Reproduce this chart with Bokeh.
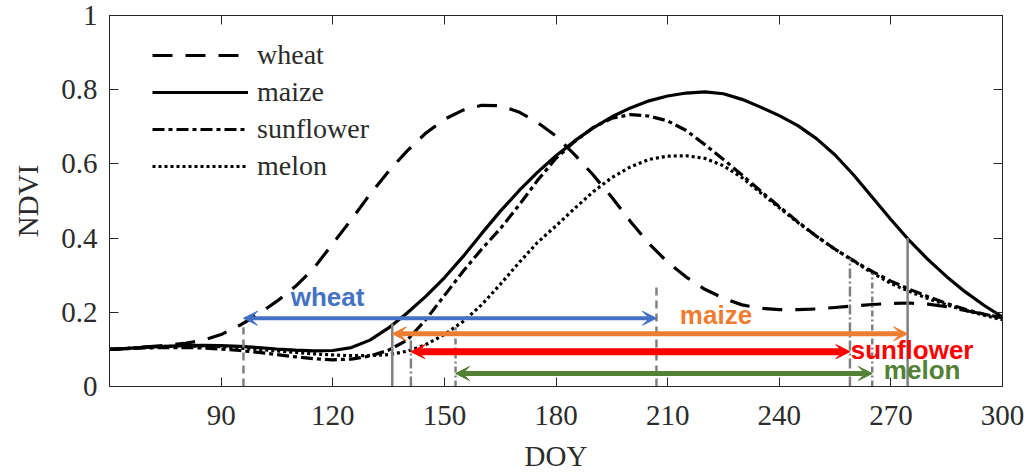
from bokeh.plotting import figure
from bokeh.models import (Arrow, VeeHead, Legend, LegendItem, LinearAxis,
                          FixedTicker, Range1d, ColumnDataSource)
from bokeh.core.properties import value
from bokeh.embed import file_html
from bokeh.resources import INLINE

# Day of year sampled every 5 days
doy = list(range(60, 305, 5))

# NDVI profiles per crop
wheat = [0.100, 0.103, 0.107, 0.111, 0.116, 0.124, 0.140, 0.165, 0.195,
         0.230, 0.270, 0.320, 0.385, 0.450, 0.518, 0.580, 0.635, 0.683, 0.720,
         0.745, 0.758, 0.757, 0.740, 0.712, 0.675, 0.625, 0.570, 0.510, 0.445,
         0.385, 0.335, 0.295, 0.262, 0.238, 0.220, 0.211, 0.207, 0.207, 0.209,
         0.213, 0.217, 0.221, 0.224, 0.225, 0.222, 0.215, 0.205, 0.195, 0.185]
maize = [0.100, 0.103, 0.106, 0.108, 0.110, 0.111, 0.110, 0.108, 0.105,
         0.101, 0.098, 0.096, 0.097, 0.105, 0.125, 0.158, 0.198, 0.243, 0.293,
         0.350, 0.412, 0.472, 0.527, 0.577, 0.622, 0.662, 0.697, 0.727, 0.751,
         0.770, 0.783, 0.791, 0.794, 0.789, 0.774, 0.753, 0.730, 0.703, 0.668,
         0.624, 0.570, 0.510, 0.450, 0.393, 0.342, 0.296, 0.255, 0.219, 0.187]
sunflower = [0.100, 0.102, 0.104, 0.105, 0.105, 0.104, 0.101, 0.097, 0.092,
             0.086, 0.080, 0.075, 0.072, 0.074, 0.082, 0.098, 0.125, 0.180, 0.245,
             0.310, 0.370, 0.425, 0.488, 0.555, 0.615, 0.660, 0.698, 0.723, 0.733,
             0.729, 0.716, 0.690, 0.652, 0.612, 0.570, 0.527, 0.485, 0.444, 0.405,
             0.370, 0.339, 0.310, 0.284, 0.262, 0.242, 0.224, 0.208, 0.195, 0.184]
melon = [0.100, 0.103, 0.106, 0.108, 0.109, 0.109, 0.107, 0.104, 0.100,
         0.096, 0.092, 0.088, 0.085, 0.083, 0.083, 0.086, 0.095, 0.113, 0.140,
         0.175, 0.220, 0.275, 0.333, 0.388, 0.433, 0.480, 0.525, 0.563, 0.592,
         0.612, 0.621, 0.622, 0.615, 0.595, 0.563, 0.522, 0.482, 0.442, 0.405,
         0.370, 0.338, 0.306, 0.278, 0.256, 0.237, 0.220, 0.205, 0.192, 0.180]

# Growing periods (DOY) and the NDVI where each period boundary is marked
crops = ["wheat", "maize", "sunflower", "melon"]
period_start = [96, 136, 141, 153]
period_end = [207, 274.5, 259, 265]
start_ndvi = [0.16, 0.17, 0.13, 0.16]
end_ndvi = [0.28, 0.40, 0.345, 0.305]

# Period arrow placement and label placement
arrow_level = [0.184, 0.142, 0.094, 0.035]
label_x = [118.6, 223.0, 275.7, 278.4]
label_y = [0.241, 0.193, 0.099, 0.045]

x_ticks = [90, 120, 150, 180, 210, 240, 270, 300]
y_ticks = [0, 0.2, 0.4, 0.6, 0.8, 1]
y_tick_labels = ["0", "0.2", "0.4", "0.6", "0.8", "1"]

colors = ["#4472C4", "#ED7D31", "#FF0000", "#548235"]
arrow_widths = [4, 5, 7, 5]
curve_dash = ["20 13", "solid", "12 4 4 4", "3 3"]
mark_dash = ["8 5", "solid", "10 3 2 3", "6 3 2 3"]

INK = "#262626"
TEXT = "#2b2b2b"
SERIF = "Liberation Serif"

p = figure(width=1028, height=474, output_backend="svg", toolbar_location=None,
           x_range=Range1d(60, 300), y_range=Range1d(0, 1),
           min_border_left=109, min_border_right=26,
           min_border_top=15, min_border_bottom=88,
           x_axis_label="DOY", y_axis_label="NDVI")
p.xgrid.visible = False
p.ygrid.visible = False
p.outline_line_color = INK
p.outline_line_width = 1

p.xaxis.ticker = FixedTicker(ticks=x_ticks)
p.yaxis.ticker = FixedTicker(ticks=y_ticks)
p.yaxis.major_label_overrides = {t: s for t, s in zip(y_ticks, y_tick_labels)}

for ax in (p.xaxis[0], p.yaxis[0]):
    ax.major_tick_in = 9
    ax.major_tick_out = 0
    ax.minor_tick_line_color = None
    ax.axis_line_color = INK
    ax.major_tick_line_color = INK
    ax.major_label_text_font = SERIF
    ax.major_label_text_font_size = "29px"
    ax.major_label_text_color = TEXT
    ax.axis_label_text_font = SERIF
    ax.axis_label_text_font_size = "29px"
    ax.axis_label_text_font_style = "normal"
    ax.axis_label_text_color = TEXT
p.xaxis.major_label_standoff = 19
p.xaxis.axis_label_standoff = 12
p.yaxis.major_label_standoff = 12
p.yaxis.axis_label_standoff = 14

# Box ticks on the top and right edges (no labels)
for side, ticks in (("above", x_ticks), ("right", y_ticks)):
    ax = LinearAxis(ticker=FixedTicker(ticks=ticks))
    ax.major_tick_in = 9
    ax.major_tick_out = 0
    ax.minor_tick_line_color = None
    ax.axis_line_color = INK
    ax.major_tick_line_color = INK
    ax.major_label_overrides = {t: "" for t in ticks}
    ax.major_label_standoff = 0
    p.add_layout(ax, side)

# NDVI curves
series = [wheat, maize, sunflower, melon]
renderers = []
for vals, dash in zip(series, curve_dash):
    r = p.line(doy, vals, line_color="black", line_width=3.2, line_dash=dash)
    renderers.append(r)

# Period boundary markers
for i in range(len(crops)):
    p.segment(x0=[period_start[i], period_end[i]], y0=[0, 0],
              x1=[period_start[i], period_end[i]], y1=[start_ndvi[i], end_ndvi[i]],
              line_color="#808080", line_width=2.5, line_dash=mark_dash[i])

# Period arrows
for i in range(len(crops)):
    c = colors[i]
    p.add_layout(Arrow(
        start=VeeHead(size=14, fill_color=c, line_color=c, line_width=1),
        end=VeeHead(size=14, fill_color=c, line_color=c, line_width=1),
        x_start=period_start[i], y_start=arrow_level[i],
        x_end=period_end[i], y_end=arrow_level[i],
        line_color=c, line_width=arrow_widths[i]))

labels = ColumnDataSource(dict(x=label_x, y=label_y, text=crops, color=colors))
p.text(x="x", y="y", text="text", source=labels, text_color="color",
       text_font=value("Liberation Sans"), text_font_style="bold",
       text_font_size="26px", text_align="center", text_baseline="middle")

legend = Legend(items=[LegendItem(label=n, renderers=[r]) for n, r in zip(crops, renderers)],
                location=(43, 204), glyph_width=96, glyph_height=30, label_height=30,
                spacing=5, label_standoff=9, padding=0, margin=0,
                border_line_alpha=0, background_fill_alpha=0,
                label_text_font=SERIF, label_text_font_size="28px",
                label_text_color=TEXT)
p.add_layout(legend)

open("out.html", "w").write(file_html(p, INLINE))
